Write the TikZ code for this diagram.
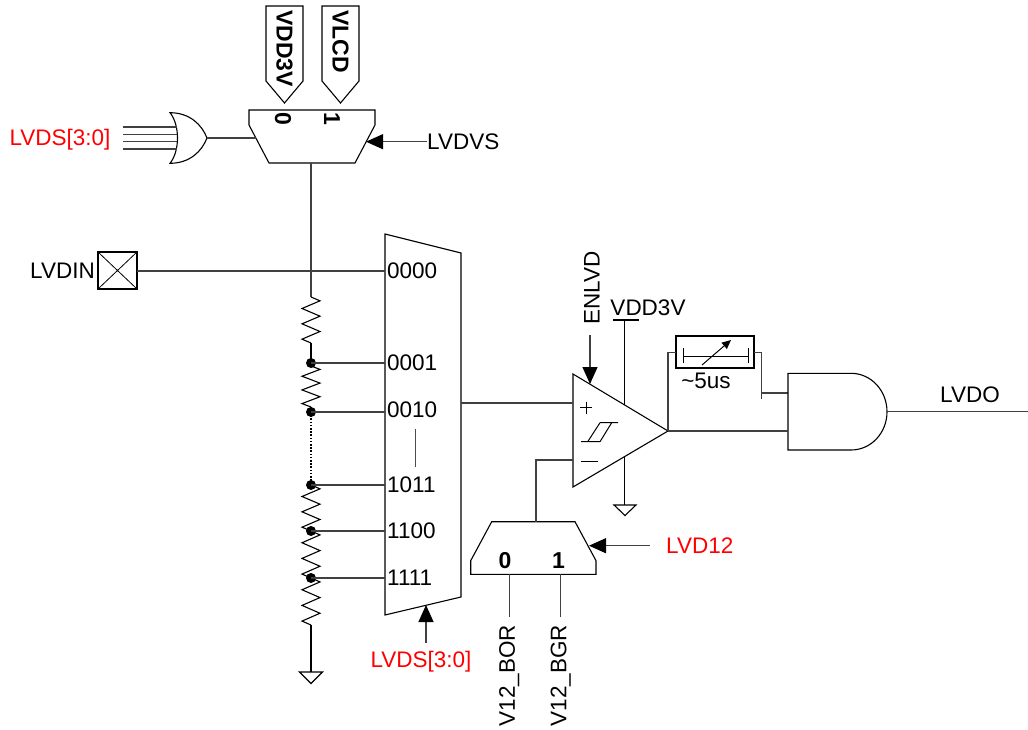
\documentclass[tikz,border=0pt]{standalone}
\usepackage{fontspec}
\setmainfont{Liberation Sans}
\usetikzlibrary{arrows.meta}
\definecolor{lvred}{RGB}{255,0,0}
\tikzset{
  wire/.style={draw=black!75, line width=1.1pt},
  gateline/.style={draw=black, line width=1.1pt, line join=miter},
  lbl/.style={font=\fontsize{22.5}{26}\selectfont, inner sep=0pt},
  blbl/.style={font=\fontsize{23}{26}\selectfont\bfseries, inner sep=0pt},
  redlbl/.style={lbl, text=lvred},
  sigarrow/.style={wire, -{Triangle[length=17pt,width=15pt,color=black]}},
  tap/.style={fill=black},
}
\newcommand\rzig[2]{%
  \draw[gateline] (311,#1) -- ++(9,{(#2-#1)/12}) -- ++(-18,{(#2-#1)/6}) -- ++(18,{(#2-#1)/6})
    -- ++(-18,{(#2-#1)/6}) -- ++(18,{(#2-#1)/6}) -- ++(-18,{(#2-#1)/6}) -- ++(9,{(#2-#1)/12});}
\begin{document}
\begin{tikzpicture}[x=1pt,y=-1pt]
\useasboundingbox (0,0) rectangle (1028,730);

% ---------- supply flags ----------
\draw[gateline] (266,6) -- (303,6) -- (303,81) -- (284.5,103) -- (266,81) -- cycle;
\node[blbl, rotate=-90, anchor=west] (fvdd) at (284.5,10) {VDD3V};
\draw[gateline] (322,6) -- (359,6) -- (359,81) -- (340.5,103) -- (322,81) -- cycle;
\node[blbl, rotate=-90, anchor=west] (fvlcd) at (340.5,10) {VLCD};

% ---------- top mux ----------
\draw[gateline] (249,110) -- (375,110) -- (375,125) -- (355,163) -- (269,163) -- (249,125) -- cycle;
\node[blbl, rotate=-90] (m0) at (283,119) {0};
\node[blbl, rotate=-90] (m1) at (332,119) {1};
\coordinate (tmin) at (255.5,138);
\coordinate (tmsel) at (366,141.7);
\coordinate (tmout) at (311,163);

% LVDVS select
\node[lbl, anchor=west] (lvdvs) at (427,141.7) {LVDVS};
\draw[sigarrow] (lvdvs.west) -- (tmsel);

% ---------- OR gate ----------
\draw[gateline] (170,112.7) .. controls (180,125) and (180,151) .. (170,163.3)
  .. controls (190,163.3) and (202,151) .. (207,138)
  .. controls (202,125) and (190,112.7) .. (170,112.7) -- cycle;
\coordinate (orout) at (207,138);
\foreach \yy in {127,134.3,141.7,149}
  \draw[wire] (123,\yy) -- (176.5,\yy);
\node[redlbl] (lvdsa) at (60,140) {LVDS[3:0]};
\draw[wire] (orout) -- (tmin);

% ---------- LVDIN pad ----------
\node[lbl, anchor=east] (lvdin) at (95,271) {LVDIN};
\draw[gateline] (98,252) rectangle (137,289);
\draw[line width=0.8pt] (98,252) -- (137,289) (98,289) -- (137,252);
\coordinate (padout) at (137,271);

% ---------- big mux ----------
\draw[gateline] (385,234) -- (461,253) -- (461,597) -- (385,615) -- cycle;
\coordinate (bmout) at (461,403);
\draw[wire] (padout) -- (385,271);
\node[lbl, anchor=west] (i0000) at (387,271) {0000};
\node[lbl, anchor=west] (i0001) at (387,363) {0001};
\node[lbl, anchor=west] (i0010) at (387,410) {0010};
\node[lbl, anchor=west] (i1011) at (387,485) {1011};
\node[lbl, anchor=west] (i1100) at (387,531) {1100};
\node[lbl, anchor=west] (i1111) at (387,578) {1111};
\draw[draw=black!70, line width=0.6pt] (415,429) -- (415,467);

% LVDS select of big mux
\node[redlbl] (lvdsb) at (421,662) {LVDS[3:0]};
\draw[sigarrow] (426,643) -- (426,605);

% ---------- resistor ladder ----------
\draw[wire] (tmout) -- (311,297);
\rzig{297}{343}
\draw[gateline] (311,343) -- (311,366);
\rzig{366}{407}
\draw[gateline] (311,407) -- (311,412);
\draw[gateline, dash pattern=on 1.6pt off 1.6pt, line width=1.6pt] (311,412) -- (311,485);
\rzig{485}{531}
\rzig{531}{578}
\rzig{578}{625}
\draw[gateline] (311,625) -- (311,672);
\draw[gateline] (299.5,672) -- (322.5,672) -- (311,683.5) -- cycle;
\foreach \yy in {363,412,485,531,578}{
  \fill[tap] (311,\yy) circle[radius=5pt];
  \draw[wire] (311,\yy) -- (385,\yy);
}

% ---------- comparator ----------
\draw[gateline] (573,374) -- (668,431) -- (573,487) -- cycle;
\draw[wire] (bmout) -- (573,403);
\draw[line width=1pt] (580,407.5) -- (592,407.5) (586,401.5) -- (586,413.5);
\draw[line width=1pt] (581,461) -- (598,461);
\draw[line width=1pt] (581,441.7) -- (600,441.7) (600,422.7) -- (618,422.7)
  (587.7,441.7) -- (600,422.7) (600,441.7) -- (611.7,422.7);
% ENLVD
\node[lbl, rotate=90] (enlvd) at (592,288) {ENLVD};
\draw[sigarrow] (590,335) -- (590,384);
% VDD3V supply
\node[lbl] (vddc) at (648,308) {VDD3V};
\draw[gateline] (613,320) -- (639,320);
\draw[gateline] (624.5,320) -- (624.5,405);
\draw[gateline] (624.5,456.5) -- (624.5,505);
\draw[gateline] (614,505) -- (636,505) -- (625,515.5) -- cycle;
\coordinate (cmpout) at (668,431);

% ---------- LVD12 mux ----------
\draw[gateline] (491.7,521.7) -- (575,521.7) -- (596,560.7) -- (596,574.3) -- (470.7,574.3) -- (470.7,560.7) -- cycle;
\node[blbl] (s0) at (505,561) {0};
\node[blbl] (s1) at (558.5,561) {1};
\draw[wire] (573,460) -- (536,460) -- (536,521.7);
\draw[wire] (509.3,574.3) -- (509.3,617.3);
\draw[wire] (560.7,574.3) -- (560.7,617.3);
\node[lbl, rotate=90, anchor=east] (vbor) at (509.3,625) {V12\_BOR};
\node[lbl, rotate=90, anchor=east] (vbgr) at (560.7,625) {V12\_BGR};
\node[redlbl, anchor=west] (lvd12) at (666,545.7) {LVD12};
\draw[sigarrow] (650,545.7) -- (589,545.7);

% ---------- delay ----------
\draw[line width=2.2pt] (676,336) rectangle (754,368);
\draw[line width=1pt] (683,348) -- (683,363) (748.5,348) -- (748.5,363) (683,356) -- (748.5,356);
\draw[line width=1pt, -{Triangle[length=9pt,width=8pt]}] (702,365) -- (731,340);
\node[lbl] (dly) at (706,381) {\textasciitilde5us};
\draw[wire] (cmpout) -- (668,352.7) -- (676,352.7);
\draw[wire] (754,352.7) -- (761.7,352.7) -- (761.7,399.3);
\draw[wire] (761.7,393) -- (788,393);

% ---------- AND gate ----------
\draw[gateline] (788,373.3) -- (851,373.3) .. controls (871,373.3) and (887,390.5) .. (887,411.7)
  .. controls (887,433) and (871,450) .. (851,450) -- (788,450) -- cycle;
\draw[wire] (cmpout) -- (788,431);
\draw[wire] (887,411.7) -- (1028,411.7);
\node[lbl] (lvdo) at (970,395) {LVDO};
\end{tikzpicture}
\end{document}
